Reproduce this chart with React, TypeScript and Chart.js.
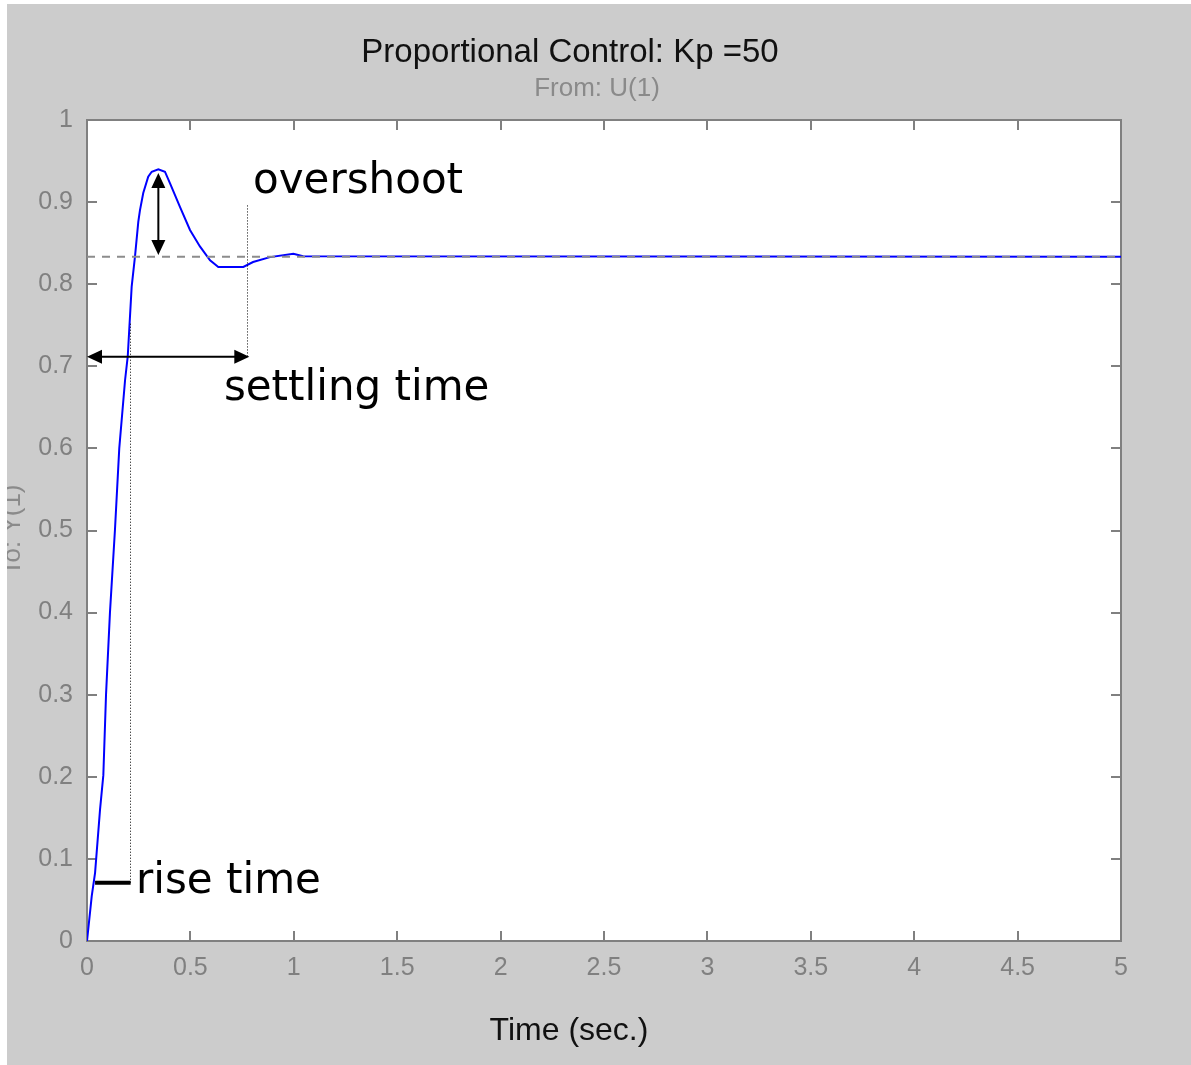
import React, { useEffect, useRef } from "react";
import { Chart, registerables } from "chart.js";

Chart.register(...registerables);

// ---- texts ----
const titleText = "Proportional Control: Kp =50";
const subtitleText = "From: U(1)";
const xAxisTitle = "Time (sec.)";
const yAxisTitle = "To: Y(1)";

// ---- step response ----
const timeValues = [
  0, 0.023, 0.039, 0.063, 0.079, 0.092, 0.111, 0.135, 0.156, 0.184, 0.197,
  0.216, 0.232, 0.248, 0.256, 0.272, 0.296, 0.313, 0.345, 0.377, 0.401, 0.45,
  0.498, 0.546, 0.595, 0.635, 0.756, 0.803, 0.885, 0.998, 1.045, 5,
];
const responseValues = [
  0, 0.055, 0.083, 0.16, 0.202, 0.3, 0.4, 0.5, 0.6, 0.683, 0.712, 0.797,
  0.8335, 0.876, 0.89, 0.911, 0.931, 0.937, 0.94, 0.937, 0.923, 0.894, 0.866,
  0.846, 0.829, 0.821, 0.821, 0.827, 0.833, 0.837, 0.834, 0.8333,
];

// ---- steady-state reference ----
const steadyTimes = [0, 5];
const steadyValues = [0.8333, 0.8333];

// ---- ticks ----
const xTickValues = [0, 0.5, 1, 1.5, 2, 2.5, 3, 3.5, 4, 4.5, 5];
const xTickLabels = ["0", "0.5", "1", "1.5", "2", "2.5", "3", "3.5", "4", "4.5", "5"];
const yTickValues = [0, 0.1, 0.2, 0.3, 0.4, 0.5, 0.6, 0.7, 0.8, 0.9, 1];
const yTickLabels = ["0", "0.1", "0.2", "0.3", "0.4", "0.5", "0.6", "0.7", "0.8", "0.9", "1"];

// ---- annotations (data units) ----
const overshootArrowT = 0.345;
const overshootArrowY = [0.8355, 0.9355];
const settlingArrowY = 0.7117;
const settlingArrowT = [0, 0.785];
const settlingMarkT = 0.774;
const settlingMarkY = [0.712, 0.898];
const riseMarkT = 0.208;
const riseMarkY = [0.071, 0.754];
const riseBarY = 0.071;
const riseBarT = [0.039, 0.211];
const labelTexts = ["overshoot", "settling time", "rise time"];
const labelT = [0.803, 0.662, 0.237];
const labelY = [0.911, 0.659, 0.0585];

const W = 1191;
const H = 1065;

function arrowHead(ctx: CanvasRenderingContext2D, tx: number, ty: number, dx: number, dy: number) {
  const len = 15;
  const hw = 7;
  const bx = tx - dx * len;
  const by = ty - dy * len;
  const px = -dy;
  const py = dx;
  ctx.beginPath();
  ctx.moveTo(tx, ty);
  ctx.lineTo(bx + px * hw, by + py * hw);
  ctx.lineTo(bx - px * hw, by - py * hw);
  ctx.closePath();
  ctx.fill();
}

const decorPlugin = {
  id: "decor",
  beforeDraw(chart: any) {
    const ctx = chart.ctx as CanvasRenderingContext2D;
    const a = chart.chartArea;
    ctx.save();
    ctx.fillStyle = "#ffffff";
    ctx.fillRect(0, 0, W, H);
    ctx.fillStyle = "#cccccc";
    ctx.fillRect(7, 4, W - 7, H - 4);
    ctx.fillStyle = "#ffffff";
    ctx.fillRect(a.left, a.top, a.right - a.left, a.bottom - a.top);
    ctx.restore();
  },
  beforeDatasetsDraw(chart: any) {
    const ctx = chart.ctx as CanvasRenderingContext2D;
    const a = chart.chartArea;
    const xs = chart.scales.x;
    const ys = chart.scales.y;
    ctx.save();
    ctx.strokeStyle = "#808080";
    ctx.lineWidth = 2;
    ctx.beginPath();
    for (const v of xTickValues) {
      const px = Math.round(xs.getPixelForValue(v));
      ctx.moveTo(px, a.bottom);
      ctx.lineTo(px, a.bottom - 10);
      ctx.moveTo(px, a.top);
      ctx.lineTo(px, a.top + 10);
    }
    for (const v of yTickValues) {
      const py = Math.round(ys.getPixelForValue(v));
      ctx.moveTo(a.left, py);
      ctx.lineTo(a.left + 10, py);
      ctx.moveTo(a.right, py);
      ctx.lineTo(a.right - 10, py);
    }
    ctx.stroke();
    ctx.strokeRect(a.left, a.top, a.right - a.left, a.bottom - a.top);
    ctx.restore();
  },
  afterDatasetsDraw(chart: any) {
    const ctx = chart.ctx as CanvasRenderingContext2D;
    const xs = chart.scales.x;
    const ys = chart.scales.y;
    const X = (v: number) => xs.getPixelForValue(v);
    const Y = (v: number) => ys.getPixelForValue(v);
    ctx.save();
    ctx.fillStyle = "#000000";
    ctx.strokeStyle = "#000000";

    // dotted markers
    ctx.lineWidth = 1;
    ctx.setLineDash([1, 2]);
    ctx.beginPath();
    const sx = Math.round(X(settlingMarkT)) + 0.5;
    ctx.moveTo(sx, Y(settlingMarkY[0]));
    ctx.lineTo(sx, Y(settlingMarkY[1]));
    const rx = Math.round(X(riseMarkT)) + 0.5;
    ctx.moveTo(rx, Y(riseMarkY[0]));
    ctx.lineTo(rx, Y(riseMarkY[1]));
    ctx.stroke();
    ctx.setLineDash([]);

    // overshoot arrow
    ctx.lineWidth = 2;
    const ox = X(overshootArrowT);
    const oy0 = Y(overshootArrowY[0]);
    const oy1 = Y(overshootArrowY[1]);
    ctx.beginPath();
    ctx.moveTo(ox, oy0 - 10);
    ctx.lineTo(ox, oy1 + 10);
    ctx.stroke();
    arrowHead(ctx, ox, oy0, 0, 1);
    arrowHead(ctx, ox, oy1, 0, -1);

    // settling arrow
    const hy = Y(settlingArrowY);
    const hx0 = X(settlingArrowT[0]);
    const hx1 = X(settlingArrowT[1]);
    ctx.beginPath();
    ctx.moveTo(hx0 + 10, hy);
    ctx.lineTo(hx1 - 10, hy);
    ctx.stroke();
    arrowHead(ctx, hx0, hy, -1, 0);
    arrowHead(ctx, hx1, hy, 1, 0);

    // rise bar
    ctx.lineWidth = 4;
    ctx.beginPath();
    ctx.moveTo(X(riseBarT[0]), Y(riseBarY));
    ctx.lineTo(X(riseBarT[1]), Y(riseBarY));
    ctx.stroke();

    // labels
    ctx.font = '42px "DejaVu Sans", Verdana, sans-serif';
    ctx.textAlign = "left";
    ctx.textBaseline = "alphabetic";
    for (let i = 0; i < labelTexts.length; i++) {
      ctx.fillText(labelTexts[i], X(labelT[i]), Y(labelY[i]));
    }
    ctx.restore();
  },
  afterDraw(chart: any) {
    const ctx = chart.ctx as CanvasRenderingContext2D;
    const a = chart.chartArea;
    const cx = (a.left + a.right) / 2;
    ctx.save();
    ctx.textAlign = "center";
    ctx.textBaseline = "alphabetic";
    ctx.fillStyle = "#111111";
    ctx.font = '33px "Liberation Sans", Arial, sans-serif';
    ctx.fillText(titleText, cx - 34, 62);
    ctx.fillStyle = "#8a8a8a";
    ctx.font = '26px "Liberation Sans", Arial, sans-serif';
    ctx.fillText(subtitleText, cx - 7, 96);
    ctx.fillStyle = "#111111";
    ctx.font = '32px "Liberation Sans", Arial, sans-serif';
    ctx.fillText(xAxisTitle, cx - 35, 1040);
    // y title, clipped at the figure edge
    ctx.beginPath();
    ctx.rect(7, 0, 80, H);
    ctx.clip();
    ctx.translate(20, 530);
    ctx.rotate(-Math.PI / 2);
    ctx.fillStyle = "#8a8a8a";
    ctx.font = '26px "Liberation Sans", Arial, sans-serif';
    ctx.fillText(yAxisTitle, 0, 0);
    ctx.restore();
  },
};

export default function App() {
  const ref = useRef<HTMLCanvasElement | null>(null);
  useEffect(() => {
    if (!ref.current) return;
    const tickFont = { family: '"Liberation Sans", Arial, sans-serif', size: 25 };
    const chart = new Chart(ref.current, {
      type: "line",
      data: {
        datasets: [
          {
            label: "steady",
            data: steadyTimes.map((t, i) => ({ x: t, y: steadyValues[i] })),
            borderColor: "#8c8c8c",
            borderWidth: 2,
            borderDash: [8, 7],
            pointRadius: 0,
            tension: 0,
          },
          {
            label: "response",
            data: timeValues.map((t, i) => ({ x: t, y: responseValues[i] })),
            borderColor: "#0000ff",
            borderWidth: 2,
            pointRadius: 0,
            tension: 0,
          },
        ],
      },
      options: {
        animation: false,
        responsive: false,
        devicePixelRatio: 1,
        layout: { padding: { left: 0, top: 120, right: 70, bottom: 0 } },
        plugins: { legend: { display: false }, tooltip: { enabled: false } },
        scales: {
          x: {
            type: "linear",
            min: 0,
            max: 5,
            grid: { display: false, drawTicks: false },
            border: { display: false },
            afterBuildTicks: (s: any) => {
              s.ticks = xTickValues.map((v) => ({ value: v }));
            },
            afterFit: (s: any) => {
              s.height = 124;
            },
            ticks: {
              autoSkip: false,
              maxRotation: 0,
              padding: 12,
              color: "#808080",
              font: tickFont,
              callback: (_v: any, i: number) => xTickLabels[i],
            },
          },
          y: {
            type: "linear",
            min: 0,
            max: 1,
            grid: { display: false, drawTicks: false },
            border: { display: false },
            afterBuildTicks: (s: any) => {
              s.ticks = yTickValues.map((v) => ({ value: v }));
            },
            afterFit: (s: any) => {
              s.width = 87;
            },
            ticks: {
              autoSkip: false,
              padding: 14,
              color: "#808080",
              font: tickFont,
              callback: (_v: any, i: number) => yTickLabels[i],
            },
          },
        },
      },
      plugins: [decorPlugin],
    } as any);
    return () => chart.destroy();
  }, []);
  return (
    <div style={{ position: "absolute", left: 0, top: 0, width: W, height: H }}>
      <canvas ref={ref} width={W} height={H} style={{ display: "block", width: W, height: H }} />
    </div>
  );
}
